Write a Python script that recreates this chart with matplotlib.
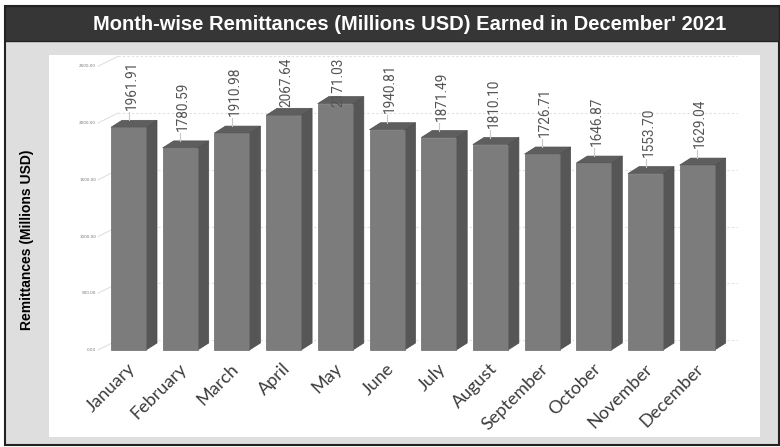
import matplotlib
matplotlib.use("Agg")
import matplotlib.pyplot as plt
from matplotlib.patches import Polygon, Rectangle
from matplotlib.lines import Line2D

months = ["January", "February", "March", "April", "May", "June", "July",
          "August", "September", "October", "November", "December"]
remittances = [1961.91, 1780.59, 1910.98, 2067.64, 2171.03, 1940.81,
               1871.49, 1810.10, 1726.71, 1646.87, 1553.70, 1629.04]
y_ticks = [0, 500, 1000, 1500, 2000, 2500]

title = "Month-wise Remittances (Millions USD) Earned in December' 2021"
y_label = "Remittances (Millions USD)"

W, H, DPI = 780, 447, 100
fig = plt.figure(figsize=(W / DPI, H / DPI), dpi=DPI)
fig.patch.set_facecolor("white")


def fx(px):
    return px / W


def fy(py_top):
    return 1 - py_top / H


# frame, header band and grey panel
fig.patches.append(Rectangle((fx(5), fy(445)), fx(774), 439 / H,
                             transform=fig.transFigure, facecolor="#dedede",
                             edgecolor="#222222", linewidth=1.5, zorder=0))
fig.patches.append(Rectangle((fx(5), fy(41)), fx(774), 35 / H,
                             transform=fig.transFigure, facecolor="#363636",
                             edgecolor="#222222", linewidth=1.0, zorder=1))
fig.text(fx(410), fy(24), title, color="white", fontsize=14.5, fontweight="bold",
         family="Liberation Sans", ha="center", va="center")
fig.text(fx(27), fy(240), y_label, color="black", fontsize=10, fontweight="bold",
         family="Liberation Sans", rotation=90, ha="center", va="center")

# plot area
left, top, right, bottom = 49, 55, 760, 437
ax = fig.add_axes([fx(left), fy(bottom), fx(right - left), (bottom - top) / H])
ax.set_zorder(5)
ax.set_facecolor("white")
for s in ax.spines.values():
    s.set_visible(False)
ax.set_xticks([])
ax.set_yticks([])

PXX = 51.7      # pixels per category
PXY = 0.1135    # pixels per million USD
base_px = 350
x0 = 128.5
ax.set_xlim(-(x0 - left) / PXX, (right - x0) / PXX)
ax.set_ylim(-(bottom - base_px) / PXY, (base_px - top) / PXY)

# back-wall gridlines and tiny tick labels
gdx, gdy = 20 / PXX, 10 / PXY
lab_x = -(x0 - 96) / PXX
grid_end = (737 - x0) / PXX
for t in y_ticks:
    ax.plot([lab_x + 0.04, lab_x + 0.04 + gdx], [t, t + gdy], color="#dddddd",
            lw=0.7, zorder=1)
    ax.plot([lab_x + 0.04 + gdx, grid_end], [t + gdy, t + gdy], color="#e0e0e0",
            lw=0.8, ls=(0, (2, 2)), zorder=1)
    ax.text(lab_x, t, f"{t:.2f}", fontsize=3, color="#777777", ha="right",
            va="center")

# 3D bars
bw = 35 / PXX
ddx, ddy = 11 / PXX, 7 / PXY
xs = list(range(len(months)))
ax.bar(xs, remittances, width=bw, color="#7c7c7c", edgecolor="#6a6a6a",
       linewidth=0.5, zorder=3)
for x, v in zip(xs, remittances):
    xl, xr = x - bw / 2, x + bw / 2
    ax.add_patch(Polygon([(xr, 0), (xr, v), (xr + ddx, v + ddy), (xr + ddx, ddy)],
                         closed=True, facecolor="#565656", edgecolor="#4c4c4c",
                         linewidth=0.5, zorder=2))
    ax.add_patch(Polygon([(xl, v), (xr, v), (xr + ddx, v + ddy), (xl + ddx, v + ddy)],
                         closed=True, facecolor="#5e5e5e", edgecolor="#505050",
                         linewidth=0.5, zorder=2))

# value labels above the bars, kept inside the plot area
fig.canvas.draw()
label_len = 49
cap_bottom = H - 58 - label_len
for x, v in zip(xs, remittances):
    px, py = ax.transData.transform((x, v))
    lb = min(py + 17, cap_bottom)
    back_top = py + 7
    if lb - 2 > back_top:
        fig.lines.append(Line2D([px, px], [back_top, lb - 2], zorder=6,
                                transform=None, color="#c8c8c8", lw=0.8))
    t = fig.text(px + 3, lb, f"{v:.2f}", transform=None, rotation=90,
                 ha="center", va="bottom", fontsize=9.8, color="#555555",
                 family="Roboto")
    t.set_zorder(7)

# month labels
for x, m in zip(xs, months):
    ax.annotate(m, (x, 0), xytext=(4, -16), textcoords="offset pixels",
                rotation=45, rotation_mode="anchor", ha="right", va="center",
                fontsize=13, color="#3c3c3c", family="Lato",
                annotation_clip=False)

fig.savefig("out.png", dpi=DPI)
